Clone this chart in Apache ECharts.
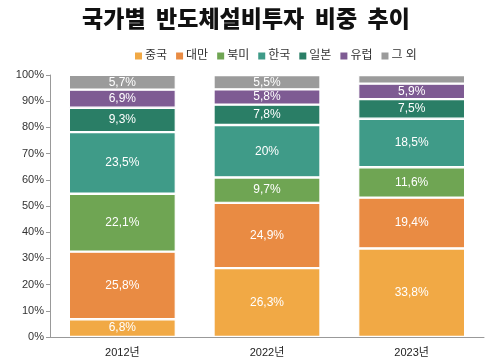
<!DOCTYPE html>
<html><head><meta charset="utf-8">
<script src="https://cdn.jsdelivr.net/npm/echarts@6/dist/echarts.min.js"></script>
<style>html,body{margin:0;padding:0;background:#fff}#c{width:492px;height:362px}</style>
</head><body><div id="c"></div>
<script>
const categories = ['2012년', '2022년', '2023년'];
const seriesNames = ['중국', '대만', '북미', '한국', '일본', '유럽', '그 외'];
const china = [6.8, 26.3, 33.8];
const taiwan = [25.8, 24.9, 19.4];
const northAmerica = [22.1, 9.7, 11.6];
const korea = [23.5, 20, 18.5];
const japan = [9.3, 7.8, 7.5];
const europe = [6.9, 5.8, 5.9];
const others = [5.7, 5.5, 3.3];
const yTicks = ['0%','10%','20%','30%','40%','50%','60%','70%','80%','90%','100%'];
const colors = ['#F1A945', '#E98B43', '#6FA553', '#3F9B88', '#2A7E66', '#7E5B93', '#9B9B9B'];
const values = [china, taiwan, northAmerica, korea, japan, europe, others];
const labelShown = [[true,true,true],[true,true,true],[true,true,true],[true,true,true],[true,true,true],[true,true,true],[true,true,false]];

const chart = echarts.init(document.getElementById('c'));
const font = 'Arial, "Liberation Sans", "Noto Sans CJK KR", sans-serif';
chart.setOption({
  animation: false,
  title: {
    text: '국가별  반도체설비투자  비중  추이',
    left: 'center', top: 2,
    textStyle: {fontSize: 23, fontWeight: 900, color: '#111', fontFamily: '"Noto Sans CJK KR", sans-serif'}
  },
  legend: {
    top: 45, left: 128,
    itemWidth: 9, itemHeight: 9, itemGap: 7,
    icon: 'rect',
    textStyle: {fontSize: 12, color: '#333', fontFamily: font, padding: [0,0,0,-3]},
    data: seriesNames
  },
  grid: {left: 50, right: 8, top: 75, bottom: 25},
  xAxis: {
    type: 'category', data: categories,
    axisLine: {lineStyle: {color: '#999'}},
    axisTick: {show: false},
    axisLabel: {fontSize: 11, color: '#222', fontFamily: font, margin: 10}
  },
  yAxis: {
    type: 'value', min: 0, max: 100, interval: 10,
    axisLine: {show: true, lineStyle: {color: '#999'}},
    axisTick: {show: true, inside: false, length: 4, lineStyle: {color: '#999'}},
    splitLine: {show: false},
    axisLabel: {fontSize: 11, color: '#333', fontFamily: font, margin: 6,
      formatter: function(v){ return yTicks[Math.round(v/10)]; }}
  },
  series: seriesNames.map(function(name, i){
    return {
      name: name, type: 'bar', stack: 'total', barWidth: '74%',
      itemStyle: {color: colors[i], borderColor: '#fff', borderWidth: 1.2},
      label: {show: true, position: 'inside', color: '#fff', fontSize: 12, fontFamily: font,
        formatter: function(p){ return String(p.value).replace('.', ',') + '%'; }},
      data: values[i].map(function(v, j){
        return labelShown[i][j] ? v : {value: v, label: {show: false}};
      })
    };
  })
});
</script></body></html>
